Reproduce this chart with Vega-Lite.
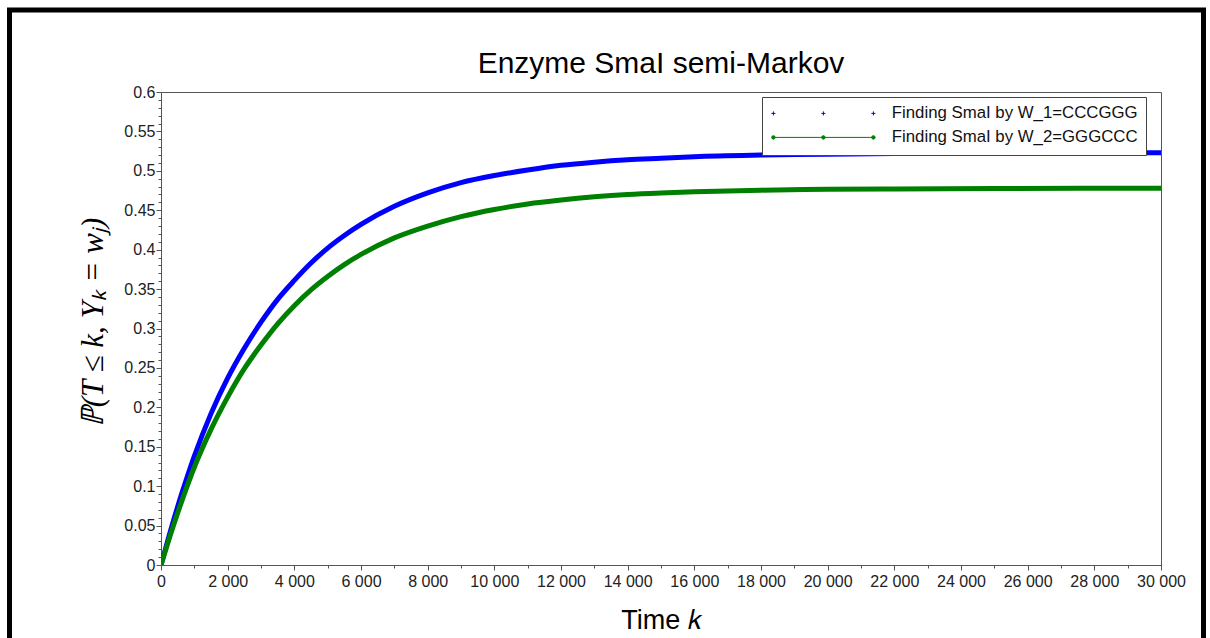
{
  "$schema": "https://vega.github.io/schema/vega-lite/v6.json",
  "autosize": {"type": "none"},
  "padding": {"left": 161, "top": 92, "right": 49, "bottom": 73},
  "width": 1000,
  "height": 473,
  "background": "white",
  "title": {
    "text": "Enzyme SmaI semi-Markov",
    "font": "Liberation Sans",
    "fontSize": 30,
    "fontWeight": "normal",
    "color": "black",
    "frame": "group",
    "anchor": "middle",
    "baseline": "alphabetic",
    "offset": -95.5
  },
  "config": {
    "view": {"stroke": "#555", "strokeWidth": 1},
    "axis": {
      "grid": false,
      "domainColor": "#555",
      "tickColor": "#555",
      "labelFont": "Liberation Sans",
      "labelFontSize": 16,
      "labelColor": "#222",
      "titleFontWeight": "normal",
      "titleColor": "black"
    }
  },
  "resolve": {"axis": {"x": "independent", "y": "independent"}},
  "layer": [
    {
      "data": {"values": [{}]},
      "mark": {"type": "rect", "filled": false, "stroke": "black", "strokeWidth": 5, "clip": false},
      "encoding": {
        "x": {"datum": -4545, "type": "quantitative",
          "scale": {"domain": [0, 30000], "nice": false, "zero": false},
          "axis": {"orient": "bottom", "values": [1000, 3000, 5000, 7000, 9000, 11000, 13000, 15000, 17000, 19000, 21000, 23000, 25000, 27000, 29000], "labels": false, "domain": false, "title": null, "tickSize": 3}},
        "x2": {"datum": 31275},
        "y": {"datum": -0.115, "type": "quantitative",
          "scale": {"domain": [0, 0.6], "nice": false, "zero": false},
          "axis": {"orient": "left", "values": [0.01, 0.02, 0.03, 0.04, 0.06, 0.07, 0.08, 0.09, 0.11, 0.12, 0.13, 0.14, 0.16, 0.17, 0.18, 0.19, 0.21, 0.22, 0.23, 0.24, 0.26, 0.27, 0.28, 0.29, 0.31, 0.32, 0.33, 0.34, 0.36, 0.37, 0.38, 0.39, 0.41, 0.42, 0.43, 0.44, 0.46, 0.47, 0.48, 0.49, 0.51, 0.52, 0.53, 0.54, 0.56, 0.57, 0.58, 0.59], "labels": false, "domain": false, "title": null, "tickSize": 3}},
        "y2": {"datum": 0.704}
      }
    },
    {
      "data": {"values": [
        {"k": 0, "p": 0, "series": "Finding SmaI by W_1=CCCGGG"},
        {"k": 250, "p": 0.038, "series": "Finding SmaI by W_1=CCCGGG"},
        {"k": 500, "p": 0.074, "series": "Finding SmaI by W_1=CCCGGG"},
        {"k": 750, "p": 0.107, "series": "Finding SmaI by W_1=CCCGGG"},
        {"k": 1000, "p": 0.138, "series": "Finding SmaI by W_1=CCCGGG"},
        {"k": 1500, "p": 0.192, "series": "Finding SmaI by W_1=CCCGGG"},
        {"k": 2000, "p": 0.237, "series": "Finding SmaI by W_1=CCCGGG"},
        {"k": 2500, "p": 0.275, "series": "Finding SmaI by W_1=CCCGGG"},
        {"k": 3000, "p": 0.308, "series": "Finding SmaI by W_1=CCCGGG"},
        {"k": 3500, "p": 0.337, "series": "Finding SmaI by W_1=CCCGGG"},
        {"k": 4000, "p": 0.361, "series": "Finding SmaI by W_1=CCCGGG"},
        {"k": 4500, "p": 0.383, "series": "Finding SmaI by W_1=CCCGGG"},
        {"k": 5000, "p": 0.402, "series": "Finding SmaI by W_1=CCCGGG"},
        {"k": 5500, "p": 0.418, "series": "Finding SmaI by W_1=CCCGGG"},
        {"k": 6000, "p": 0.432, "series": "Finding SmaI by W_1=CCCGGG"},
        {"k": 7000, "p": 0.455, "series": "Finding SmaI by W_1=CCCGGG"},
        {"k": 8000, "p": 0.472, "series": "Finding SmaI by W_1=CCCGGG"},
        {"k": 9000, "p": 0.485, "series": "Finding SmaI by W_1=CCCGGG"},
        {"k": 10000, "p": 0.494, "series": "Finding SmaI by W_1=CCCGGG"},
        {"k": 11000, "p": 0.501, "series": "Finding SmaI by W_1=CCCGGG"},
        {"k": 12000, "p": 0.507, "series": "Finding SmaI by W_1=CCCGGG"},
        {"k": 13000, "p": 0.511, "series": "Finding SmaI by W_1=CCCGGG"},
        {"k": 14000, "p": 0.514, "series": "Finding SmaI by W_1=CCCGGG"},
        {"k": 15000, "p": 0.516, "series": "Finding SmaI by W_1=CCCGGG"},
        {"k": 16000, "p": 0.518, "series": "Finding SmaI by W_1=CCCGGG"},
        {"k": 18000, "p": 0.52, "series": "Finding SmaI by W_1=CCCGGG"},
        {"k": 20000, "p": 0.521, "series": "Finding SmaI by W_1=CCCGGG"},
        {"k": 22000, "p": 0.522, "series": "Finding SmaI by W_1=CCCGGG"},
        {"k": 25000, "p": 0.5225, "series": "Finding SmaI by W_1=CCCGGG"},
        {"k": 30000, "p": 0.523, "series": "Finding SmaI by W_1=CCCGGG"},
        {"k": 0, "p": 0, "series": "Finding SmaI by W_2=GGGCCC"},
        {"k": 250, "p": 0.034, "series": "Finding SmaI by W_2=GGGCCC"},
        {"k": 500, "p": 0.066, "series": "Finding SmaI by W_2=GGGCCC"},
        {"k": 750, "p": 0.096, "series": "Finding SmaI by W_2=GGGCCC"},
        {"k": 1000, "p": 0.124, "series": "Finding SmaI by W_2=GGGCCC"},
        {"k": 1500, "p": 0.172, "series": "Finding SmaI by W_2=GGGCCC"},
        {"k": 2000, "p": 0.213, "series": "Finding SmaI by W_2=GGGCCC"},
        {"k": 2500, "p": 0.249, "series": "Finding SmaI by W_2=GGGCCC"},
        {"k": 3000, "p": 0.279, "series": "Finding SmaI by W_2=GGGCCC"},
        {"k": 3500, "p": 0.306, "series": "Finding SmaI by W_2=GGGCCC"},
        {"k": 4000, "p": 0.329, "series": "Finding SmaI by W_2=GGGCCC"},
        {"k": 4500, "p": 0.349, "series": "Finding SmaI by W_2=GGGCCC"},
        {"k": 5000, "p": 0.366, "series": "Finding SmaI by W_2=GGGCCC"},
        {"k": 5500, "p": 0.381, "series": "Finding SmaI by W_2=GGGCCC"},
        {"k": 6000, "p": 0.394, "series": "Finding SmaI by W_2=GGGCCC"},
        {"k": 7000, "p": 0.415, "series": "Finding SmaI by W_2=GGGCCC"},
        {"k": 8000, "p": 0.43, "series": "Finding SmaI by W_2=GGGCCC"},
        {"k": 9000, "p": 0.442, "series": "Finding SmaI by W_2=GGGCCC"},
        {"k": 10000, "p": 0.451, "series": "Finding SmaI by W_2=GGGCCC"},
        {"k": 11000, "p": 0.458, "series": "Finding SmaI by W_2=GGGCCC"},
        {"k": 12000, "p": 0.463, "series": "Finding SmaI by W_2=GGGCCC"},
        {"k": 13000, "p": 0.467, "series": "Finding SmaI by W_2=GGGCCC"},
        {"k": 14000, "p": 0.47, "series": "Finding SmaI by W_2=GGGCCC"},
        {"k": 15000, "p": 0.472, "series": "Finding SmaI by W_2=GGGCCC"},
        {"k": 16000, "p": 0.4735, "series": "Finding SmaI by W_2=GGGCCC"},
        {"k": 18000, "p": 0.4755, "series": "Finding SmaI by W_2=GGGCCC"},
        {"k": 20000, "p": 0.4765, "series": "Finding SmaI by W_2=GGGCCC"},
        {"k": 22000, "p": 0.477, "series": "Finding SmaI by W_2=GGGCCC"},
        {"k": 25000, "p": 0.4775, "series": "Finding SmaI by W_2=GGGCCC"},
        {"k": 30000, "p": 0.478, "series": "Finding SmaI by W_2=GGGCCC"}
      ]},
      "mark": {"type": "line", "strokeWidth": 5, "interpolate": "monotone", "clip": true},
      "encoding": {
        "x": {"field": "k", "type": "quantitative",
          "scale": {"domain": [0, 30000], "nice": false, "zero": false},
          "axis": {"orient": "bottom", "values": [0, 2000, 4000, 6000, 8000, 10000, 12000, 14000, 16000, 18000, 20000, 22000, 24000, 26000, 28000, 30000],
            "labelExpr": "replace(format(datum.value, ','), ',', ' ')",
            "tickSize": 5, "labelPadding": 3, "labelFlush": false, "labelOverlap": false, "labelFontSize": 16,
            "title": "Time 𝑘", "titleFont": "Liberation Sans", "titleFontSize": 27, "titleY": 63, "titleBaseline": "alphabetic"}},
        "y": {"field": "p", "type": "quantitative",
          "scale": {"domain": [0, 0.6], "nice": false, "zero": false},
          "axis": {"orient": "left", "values": [0, 0.05, 0.1, 0.15, 0.2, 0.25, 0.3, 0.35, 0.4, 0.45, 0.5, 0.55, 0.6],
            "format": "~g", "tickSize": 5, "labelPadding": 1, "labelFlush": false, "labelOverlap": false, "labelFontSize": 16,
            "title": "ℙ(T ≤ k, Yₖ = wⱼ)", "titleFont": "Liberation Serif", "titleFontStyle": "italic", "titleFontSize": 31,
            "titleX": -59, "titleY": 230, "titleBaseline": "alphabetic"}},
        "color": {"field": "series", "type": "nominal",
          "scale": {"domain": ["Finding SmaI by W_1=CCCGGG", "Finding SmaI by W_2=GGGCCC"], "range": ["#0000ff", "#008000"]},
          "legend": {
            "title": null, "orient": "none", "legendX": 601, "legendY": 5,
            "padding": 8, "rowPadding": 6, "strokeColor": "#444", "fillColor": "white",
            "symbolSize": 100, "labelOffset": 105, "labelLimit": 500, "labelFont": "Liberation Sans", "labelFontSize": 16.8, "labelColor": "#111",
            "encode": {"symbols": {"update": {
              "shape": {"signal": "datum.value == 'Finding SmaI by W_1=CCCGGG' ? 'M-1.4,0L-0.6,0M-1,-0.4L-1,0.4M8.6,0L9.4,0M9,-0.4L9,0.4M18.6,0L19.4,0M19,-0.4L19,0.4' : 'M-1,0L19,0M-1.35,0A0.35,0.35,0,1,0,-0.65,0A0.35,0.35,0,1,0,-1.35,0M8.65,0A0.35,0.35,0,1,0,9.35,0A0.35,0.35,0,1,0,8.65,0M18.65,0A0.35,0.35,0,1,0,19.35,0A0.35,0.35,0,1,0,18.65,0'"},
              "fill": {"signal": "datum.value == 'Finding SmaI by W_1=CCCGGG' ? 'transparent' : '#008000'"},
              "stroke": {"signal": "datum.value == 'Finding SmaI by W_1=CCCGGG' ? '#4a4aff' : '#2e9e2e'"},
              "strokeWidth": {"value": 1},
              "size": {"value": 100},
              "opacity": {"value": 1}
            }}}
          }}
      }
    }
  ]
}
